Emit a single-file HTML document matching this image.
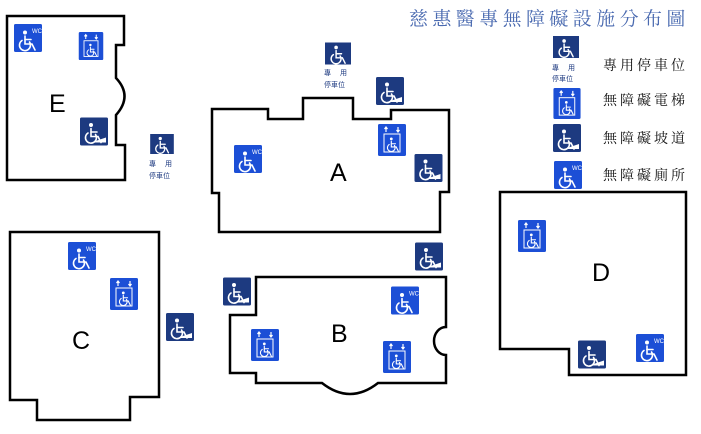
<!DOCTYPE html>
<html><head><meta charset="utf-8"><style>
body{margin:0;background:#fff;width:701px;height:434px;overflow:hidden}
svg{display:block}
.lbl{font-family:"Liberation Sans",sans-serif;font-size:25px;fill:#000}
.lg{font-family:"Liberation Serif","Noto Serif CJK SC",serif;font-size:14px;fill:#111;letter-spacing:3px}
.pk{font-family:"Liberation Sans","Noto Sans CJK TC",sans-serif;font-size:7px;fill:#1d3a80}
</style></head><body>
<svg width="701" height="434" viewBox="0 0 701 434" xmlns="http://www.w3.org/2000/svg">
<defs>
<g id="wc0" fill="none" stroke="#fff" stroke-width="1.6" stroke-linecap="round">
<circle cx="9" cy="5.5" r="2" fill="#fff" stroke="none"/>
<path d="M9 9 V17 H16 L19 23"/><path d="M9 12.5 H15"/>
<path d="M13.5 15 A5.5 5.5 0 1 1 6 13.5"/>
</g>
<symbol id="wc" viewBox="0 0 28 28"><rect width="28" height="28" rx="1.5" fill="#1c4fd6"/><use href="#wc0" transform="translate(2,3)"/><text x="18" y="9" font-size="6" fill="#fff" font-family="Liberation Sans">WC</text></symbol>
<symbol id="ramp" viewBox="0 0 28 28"><rect width="28" height="28" rx="1.5" fill="#1d3a80"/><use href="#wc0" transform="translate(2,2)"/><polygon points="11,25 26,25 26,20" fill="#fff"/></symbol>
<symbol id="park" viewBox="0 0 26 22"><rect width="26" height="22" fill="#1d3a80"/><use href="#wc0" transform="translate(3,0) scale(0.9)"/></symbol>
<symbol id="elev" viewBox="0 0 28 32"><rect width="28" height="32" rx="1.5" fill="#1c4fd6"/>
<path d="M8 3 V8 M6.5 5 L8 3 L9.5 5 M20 3 V8 M18.5 6 L20 8 L21.5 6" stroke="#fff" stroke-width="1.2" fill="none"/>
<rect x="6" y="10" width="16" height="18" fill="none" stroke="#fff" stroke-width="1"/>
<use href="#wc0" transform="translate(7,11) scale(0.7)"/></symbol>
</defs>
<g fill="none" stroke="#000" stroke-width="2.5" stroke-linejoin="miter">
<path d="M7 16 H124 V45 H116 V78 Q133 96 116 115 V145 H125 V180 H7 Z"/>
<path d="M212 109 H268 V119 H303 V98 H353 V119 H391 V110 H449 V192 H440 V232 H219 V193 H212 Z"/>
<path d="M10 232 H159 V397 H130 V420 H37 V400 H10 Z"/>
<path d="M256 277 H446 V327 A12 14 0 0 0 446 355 V383 H378 Q350 405 322 383 H256 V373 H230 V315 H256 Z"/>
<path d="M500 192 H686 V375 H569 V349 H500 Z"/>
</g>
<text class="lbl" x="49" y="112">E</text>
<text class="lbl" x="330" y="181">A</text>
<text class="lbl" x="72" y="349">C</text>
<text class="lbl" x="331" y="342">B</text>
<text class="lbl" x="592" y="281">D</text>
<text x="409" y="25" font-family="Liberation Serif","Noto Serif CJK TC",serif font-size="19" fill="#4a6ab0" letter-spacing="4.4" style="font-family:'Liberation Serif','Noto Serif CJK TC',serif">慈惠醫專無障礙設施分布圖</text>
<!-- E -->
<use href="#wc" x="14" y="24" width="28" height="28"/>
<use href="#elev" x="78" y="32" width="26" height="28"/>
<use href="#ramp" x="80" y="117" width="28" height="29"/>
<use href="#park" x="149" y="134" width="26" height="20"/>
<text class="pk" x="149" y="166">專 　用</text><text class="pk" x="149" y="178">停車位</text>
<!-- A -->
<use href="#park" x="325" y="42" width="26" height="23"/>
<text class="pk" x="324" y="75">專 　用</text><text class="pk" x="324" y="87">停車位</text>
<use href="#ramp" x="376" y="77" width="28" height="28"/>
<use href="#wc" x="234" y="145" width="28" height="28"/>
<use href="#elev" x="378" y="124" width="28" height="32"/>
<use href="#ramp" x="414" y="154" width="29" height="28"/>
<!-- C -->
<use href="#wc" x="68" y="242" width="28" height="28"/>
<use href="#elev" x="110" y="278" width="28" height="32"/>
<use href="#ramp" x="166" y="313" width="28" height="28"/>
<!-- B -->
<use href="#ramp" x="223" y="277" width="28" height="29"/>
<use href="#ramp" x="415" y="242" width="28" height="29"/>
<use href="#wc" x="391" y="286" width="28" height="29"/>
<use href="#elev" x="251" y="329" width="28" height="32"/>
<use href="#elev" x="383" y="341" width="28" height="32"/>
<!-- D -->
<use href="#elev" x="518" y="220" width="28" height="32"/>
<use href="#ramp" x="578" y="340" width="28" height="29"/>
<use href="#wc" x="636" y="334" width="28" height="28"/>
<!-- legend -->
<use href="#park" x="553" y="36" width="26" height="22"/>
<text class="pk" x="552" y="70">專 　用</text><text class="pk" x="552" y="81">停車位</text>
<use href="#elev" x="553" y="88" width="28" height="31"/>
<use href="#ramp" x="553" y="124" width="28" height="28"/>
<use href="#wc" x="554" y="161" width="28" height="28"/>
<text class="lg" x="603" y="70">專用停車位</text>
<text class="lg" x="603" y="105">無障礙電梯</text>
<text class="lg" x="603" y="143">無障礙坡道</text>
<text class="lg" x="603" y="180">無障礙廁所</text>
</svg>
</body></html>
